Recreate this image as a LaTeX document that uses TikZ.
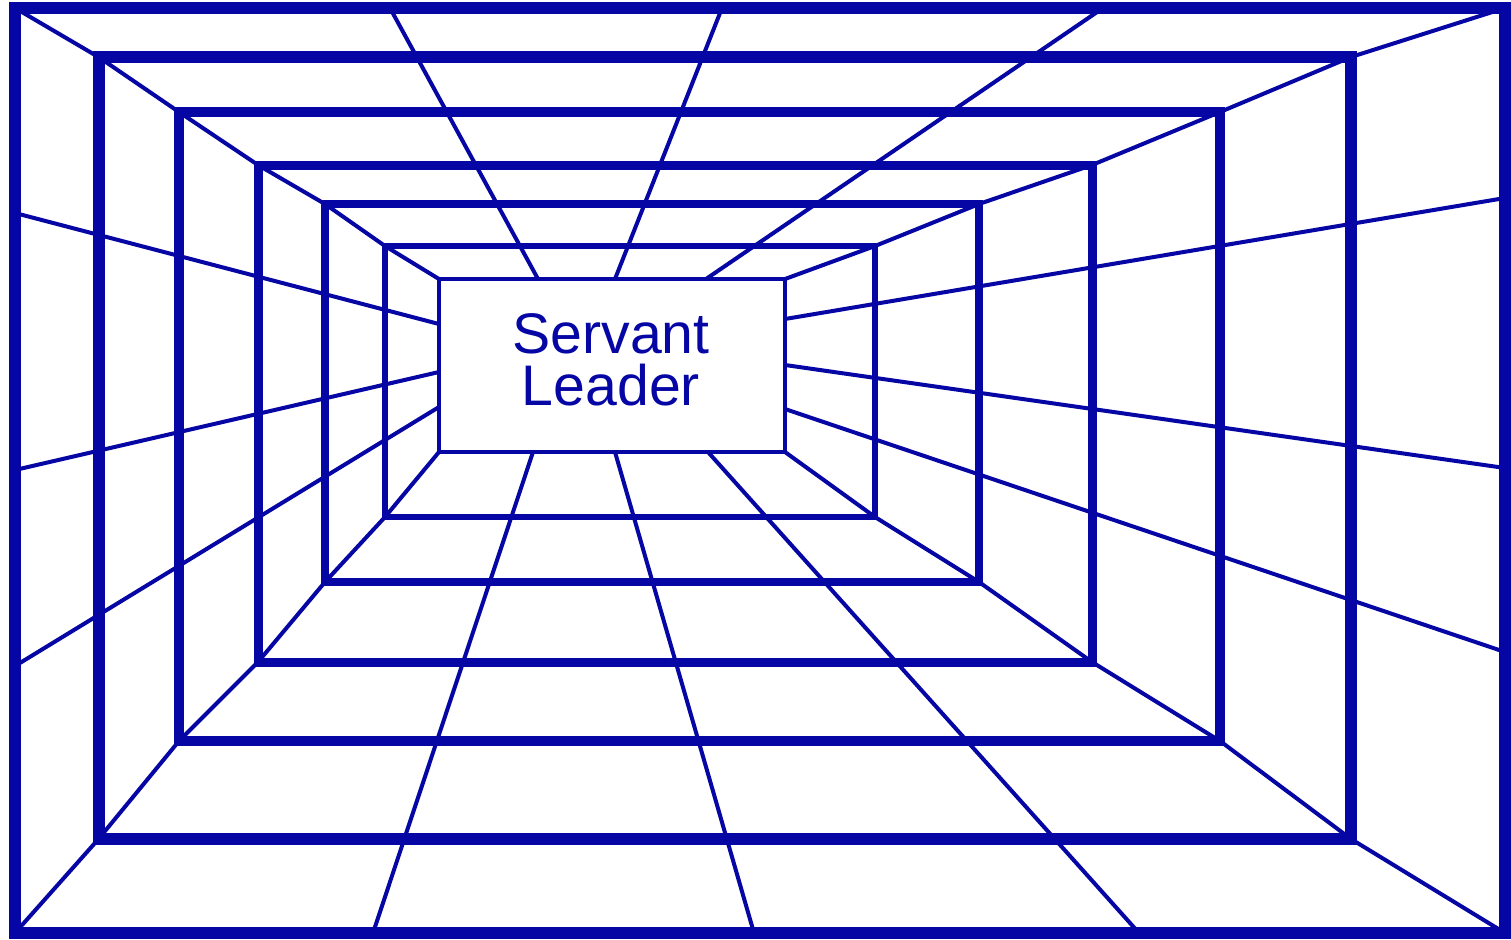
\documentclass[tikz,border=0pt]{standalone}
\usepackage{fontspec}
\setmainfont{Liberation Sans}
\definecolor{tunnel}{RGB}{6,6,165}
\begin{document}
\begin{tikzpicture}[x=0.5pt,y=-0.5pt,
  ray/.style={draw=tunnel,line width=2pt,line cap=round},
  frame/.style={draw=tunnel,line join=miter}]
\useasboundingbox (0,0) rectangle (1511,939);
\fill[white] (0,0) rectangle (1511,939);
% rectangle corners: a=top-left, b=top-right, c=bottom-right, d=bottom-left
\foreach \i/\xa/\ya/\xb/\yb in {0/15/8/1505/933, 1/98.5/57/1351/839, 2/179/112/1220/741, 3/258/165/1092/662, 4/325/204/979/582, 5/385/246/875/517, 6/439/279/785/452}{
  \coordinate (a\i) at (\xa,\ya);
  \coordinate (b\i) at (\xb,\ya);
  \coordinate (c\i) at (\xb,\yb);
  \coordinate (d\i) at (\xa,\yb);
}
% diagonals through corners
\draw[ray] (a0)--(a1)--(a2)--(a3)--(a4)--(a5)--(a6);
\draw[ray] (b0)--(b1)--(b2)--(b3)--(b4)--(b5)--(b6);
\draw[ray] (c0)--(c1)--(c2)--(c3)--(c4)--(c5)--(c6);
\draw[ray] (d0)--(d1)--(d2)--(d3)--(d4)--(d5)--(d6);
% ceiling rays
\coordinate (t1i) at (538,279); \coordinate (t1o) at (390,8);
\coordinate (t2i) at (615,279); \coordinate (t2o) at (722,8);
\coordinate (t3i) at (706,279); \coordinate (t3o) at (1103,8);
% floor rays
\coordinate (f1i) at (533,452); \coordinate (f1o) at (373,933);
\coordinate (f2i) at (615,452); \coordinate (f2o) at (754,933);
\coordinate (f3i) at (708,452); \coordinate (f3o) at (1139,933);
% left wall rays
\coordinate (l1i) at (439,324); \coordinate (l1o) at (15,213);
\coordinate (l2i) at (439,372); \coordinate (l2o) at (15,470);
\coordinate (l3i) at (439,407); \coordinate (l3o) at (15,666);
% right wall rays
\coordinate (r1i) at (785,319); \coordinate (r1o) at (1505,198);
\coordinate (r2i) at (785,365); \coordinate (r2o) at (1505,468);
\coordinate (r3i) at (785,409); \coordinate (r3o) at (1505,652);
\foreach \n in {t1,t2,t3,f1,f2,f3,l1,l2,l3,r1,r2,r3}{
  \draw[ray] (\n i)--(\n o);
}
% frames
\draw[frame,line width=6pt] (a0) rectangle (c0);
\draw[frame,line width=6pt] (a1) rectangle (c1);
\draw[frame,line width=5.2pt] (a2) rectangle (c2);
\draw[frame,line width=4.5pt] (a3) rectangle (c3);
\draw[frame,line width=3.6pt] (a4) rectangle (c4);
\draw[frame,line width=2.8pt] (a5) rectangle (c5);
\draw[frame,line width=1.9pt,fill=white] (a6) rectangle (c6);
\node[text=tunnel,align=center,inner sep=0pt,font=\fontsize{28.6pt}{26pt}\selectfont] (sl) at (611,360) {Servant\\Leader};
\end{tikzpicture}
\end{document}
